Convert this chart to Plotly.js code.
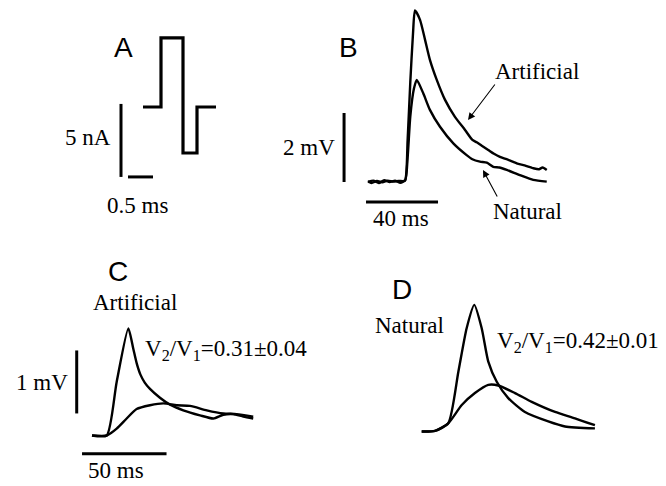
<!DOCTYPE html>
<html><head><meta charset="utf-8">
<script src="https://cdn.plot.ly/plotly-3.0.1.min.js"></script>
<style>body{margin:0;background:#fff}#plot{width:666px;height:486px}</style>
</head><body><div id="plot"></div>
<script>
// ---- Data ----
// Panel A: stimulus current (step waveform)
const aTime = [0, 0.36, 0.80, 1.08, 1.46];            // ms
const aCurrent = [0, 4.73, -3.15, 0, 0];              // nA
const aScale = {current: 5, time: 0.5};               // 5 nA, 0.5 ms

// Panel B: EPSPs (mV vs ms)
const bArtT = [0,3,6,9,12,15,18,20.6,22,23.5,25,26.1,28.9,31.7,34.4,38.2,42.8,48.3,53.9,58,60.4,63,66.8,70,73.3,77,82.6,87,91.8,95,97,99.3];
const bArtV = [0,0.04,-0.03,0.05,0,0.04,-0.02,0.05,1.2,2.9,4.3,4.97,4.70,4.12,3.54,2.96,2.38,1.89,1.51,1.22,1.15,1.06,0.93,0.82,0.73,0.66,0.54,0.48,0.40,0.37,0.42,0.35];
const bNatT = [0,2,5,8,11,14,17,20.6,22,23.5,25.5,27.1,30.7,34.4,40,47.4,54.8,58,62.2,66,69.6,73,77.1,84.4,91.8,99.3];
const bNatV = [0.02,-0.03,0.03,-0.01,0.04,0.01,0.03,0.04,0.7,1.9,2.7,2.96,2.57,2.09,1.60,1.12,0.78,0.66,0.59,0.56,0.44,0.42,0.35,0.20,0.06,0.01];
const bScale = {v: 2, t: 40};

// Panel C: Artificial, V1 (fast) and V2 (slow)
const cFastT = [0,8.7,14.6,21.5,24.4,26.5,28.6,31.2,34.3,40.2,46.2,54.0,63.9,71.8,77.7,83.6,89.5,95.4];
const cFastV = [0,0,0.85,1.70,1.38,1.14,0.97,0.84,0.74,0.60,0.49,0.40,0.32,0.27,0.33,0.34,0.30,0.27];
const cSlowT = [0,8.7,14.6,20.5,26.4,34.3,42.2,50.1,58.0,67.9,77.7,85.6,95.4];
const cSlowV = [0,0,0.11,0.27,0.42,0.48,0.51,0.48,0.47,0.40,0.35,0.34,0.30];
const cScale = {v: 1, t: 50};

// Panel D: Natural, V1 (fast) and V2 (slow)
const dFastT = [0,7.9,15.7,21.7,26.6,31.1,35.5,39.4,44.4,51.2,61.1,74.9,84.8,102.5];
const dFastV = [0,0.01,0.13,0.95,1.64,2.01,1.64,1.11,0.79,0.53,0.31,0.16,0.08,0.05];
const dSlowT = [0,7.9,15.7,23.7,31.5,39.4,45.3,55.2,65.1,78.9,90.7,102.5];
const dSlowV = [0,0.01,0.13,0.42,0.61,0.74,0.73,0.61,0.47,0.31,0.21,0.10];

// ---- Layout helpers (pixel geometry of panels) ----
const W = 666, H = 486;
function panelAxes(box, origin, pxX, pxY) {
  const [l, t, r, b] = box;
  return {
    x: {domain: [l / W, r / W], range: [(l - origin[0]) / pxX, (r - origin[0]) / pxX], visible: false, fixedrange: true},
    y: {domain: [1 - b / H, 1 - t / H], range: [(origin[1] - b) / pxY, (origin[1] - t) / pxY], visible: false, fixedrange: true}
  };
}
const pA = panelAxes([100, 20, 230, 190], [143, 107], 50, 14.6);
const pB = panelAxes([340, 0, 560, 215], [368, 182], 1.8, 34.5);
const pC = panelAxes([60, 315, 270, 465], [92, 435.5], 1.69, 63);
const pD = panelAxes([410, 295, 610, 445], [421.7, 431.5], 1.69, 63);

const LW = 2.4, BLK = '#000';
function tr(x, y, xa, ya, shape) {
  return {x, y, xaxis: xa, yaxis: ya, mode: 'lines', hoverinfo: 'skip',
          line: {color: BLK, width: LW, shape: shape || 'linear', smoothing: 0.6}};
}
const traces = [
  Object.assign(tr(aTime, aCurrent, 'x', 'y'), {line: {color: BLK, width: 3.2, shape: 'hv'}}),
  tr(bArtT, bArtV, 'x2', 'y2', 'spline'),
  tr(bNatT, bNatV, 'x2', 'y2', 'spline'),
  tr(cFastT, cFastV, 'x3', 'y3', 'spline'),
  tr(cSlowT, cSlowV, 'x3', 'y3', 'spline'),
  tr(dFastT, dFastV, 'x4', 'y4', 'spline'),
  tr(dSlowT, dSlowV, 'x4', 'y4', 'spline')
];

// scale bars as shapes in data coordinates
function bar(xr, yr, x0, y0, x1, y1) {
  return {type: 'line', xref: xr, yref: yr, x0, y0, x1, y1, line: {color: BLK, width: 3}};
}
const shapes = [
  bar('x', 'y', -0.44, -4.79, -0.44, -4.79 + aScale.current),
  bar('x', 'y', -0.30, -4.79, -0.30 + aScale.time, -4.79),
  bar('x2', 'y2', -13.3, 0, -13.3, bScale.v),
  bar('x2', 'y2', -1.1, -0.58, -1.1 + bScale.t, -0.58),
  bar('x3', 'y3', -9.05, 0.35, -9.05, 0.35 + cScale.v),
  bar('x3', 'y3', -5.9, -0.29, -5.9 + cScale.t, -0.29)
];

const serif = {family: 'Liberation Serif, Times New Roman, serif', size: 23, color: BLK};
const sans = {family: 'Liberation Sans, Arial, sans-serif', size: 28, color: BLK};
function txt(text, x, y, font, xanchor) {
  return {text, x: x / W, y: 1 - y / H, xref: 'paper', yref: 'paper', showarrow: false,
          font, xanchor: xanchor || 'center', yanchor: 'middle'};
}
function arrow(hx, hy, tx, ty) {
  return {text: '', x: hx / W, y: 1 - hy / H, xref: 'paper', yref: 'paper', showarrow: true,
          ax: tx - hx, ay: ty - hy, arrowhead: 2, arrowsize: 1.3, arrowwidth: 1.1, arrowcolor: BLK};
}
const annotations = [
  txt('A', 123, 47, sans), txt('B', 348, 47, sans), txt('C', 118, 271, sans), txt('D', 402, 289, sans),
  txt('5 nA', 113, 138, serif, 'right'),
  txt('0.5 ms', 137, 205, serif),
  txt('2 mV', 337, 147, serif, 'right'),
  txt('40 ms', 401, 218, serif),
  txt('Artificial', 537, 71, serif),
  txt('Natural', 527, 211, serif),
  arrow(468, 120, 496, 83),
  arrow(483, 170, 498, 198),
  txt('Artificial', 135, 302, serif),
  txt('V<sub>2</sub>/V<sub>1</sub>=0.31±0.04', 143, 350, serif, 'left'),
  txt('1 mV', 70, 382, serif, 'right'),
  txt('50 ms', 116, 470, serif),
  txt('Natural', 409, 325, serif),
  txt('V<sub>2</sub>/V<sub>1</sub>=0.42±0.01', 495, 342, serif, 'left')
];

const layout = {
  width: W, height: H, margin: {l: 0, r: 0, t: 0, b: 0},
  paper_bgcolor: '#fff', plot_bgcolor: 'rgba(0,0,0,0)', showlegend: false,
  xaxis: pA.x, yaxis: Object.assign(pA.y, {anchor: 'x'}),
  xaxis2: Object.assign(pB.x, {anchor: 'y2'}), yaxis2: Object.assign(pB.y, {anchor: 'x2'}),
  xaxis3: Object.assign(pC.x, {anchor: 'y3'}), yaxis3: Object.assign(pC.y, {anchor: 'x3'}),
  xaxis4: Object.assign(pD.x, {anchor: 'y4'}), yaxis4: Object.assign(pD.y, {anchor: 'x4'}),
  shapes, annotations
};
Plotly.newPlot('plot', traces, layout, {displayModeBar: false, staticPlot: true});
</script></body></html>
